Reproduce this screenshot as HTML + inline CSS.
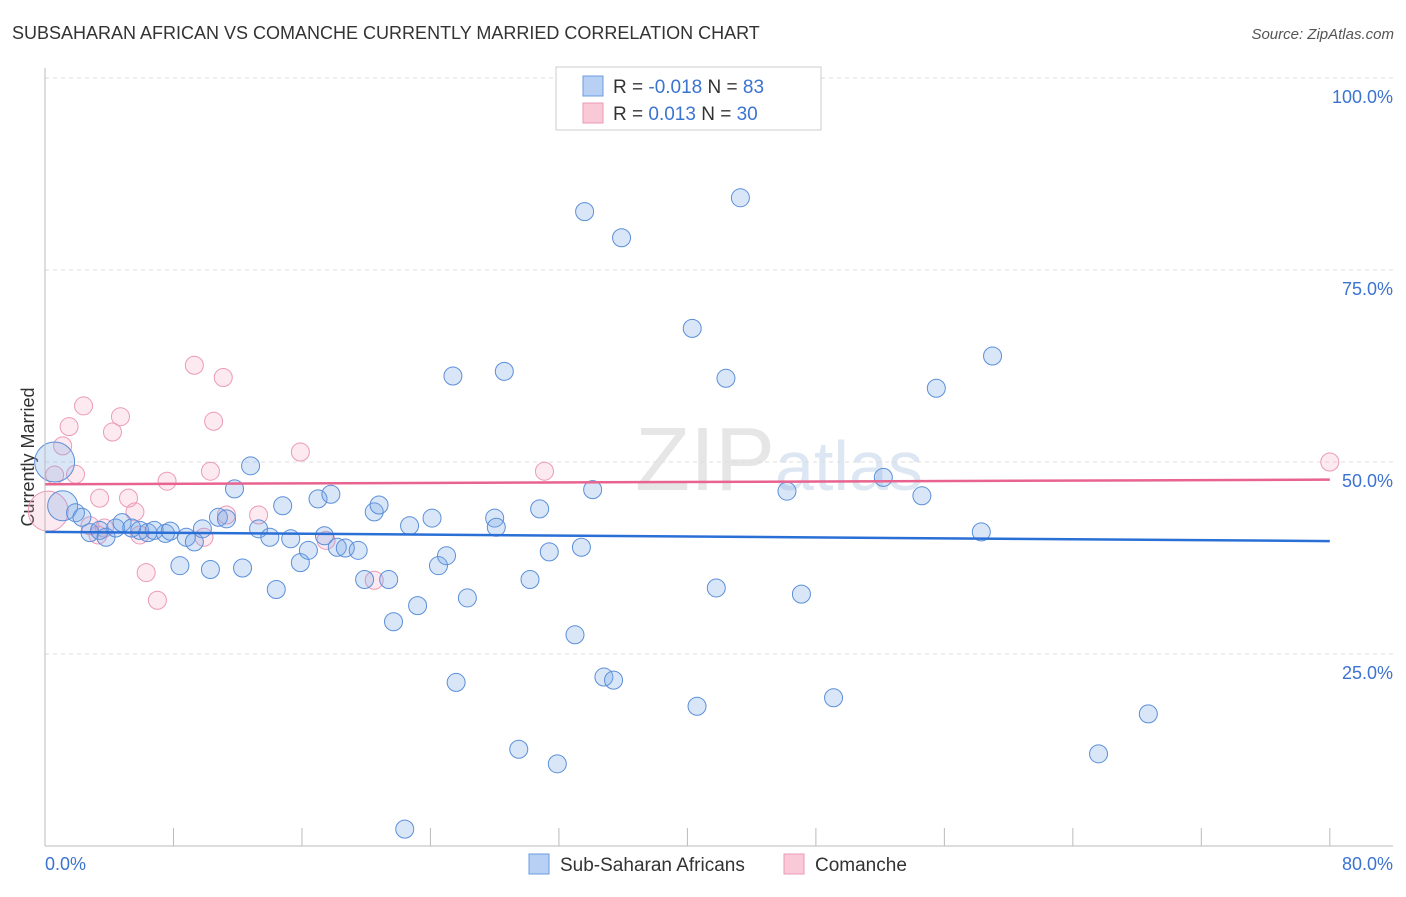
<!DOCTYPE html>
<html><head><meta charset="utf-8"><style>
body{margin:0;background:#fff;font-family:"Liberation Sans",sans-serif}
svg text{font-family:"Liberation Sans",sans-serif}
</style></head><body>
<svg width="1406" height="892" id="c">
<text x="12" y="39" font-size="18" fill="#333">SUBSAHARAN AFRICAN VS COMANCHE CURRENTLY MARRIED CORRELATION CHART</text>
<text x="1394" y="39" font-size="15" fill="#555" text-anchor="end" font-style="italic">Source: ZipAtlas.com</text>
<text x="635" y="490" font-size="90" fill="#e6e6e6" font-family="Liberation Serif">ZIP<tspan fill="#dde6f3" font-family="Liberation Sans" font-size="70">atlas</tspan></text>
<text transform="translate(34,457) rotate(-90)" font-size="18" fill="#333" text-anchor="middle">Currently Married</text>
<g id="grid"></g><g id="pts"></g><g id="lines"></g>
<line x1="45" y1="68" x2="45" y2="846" stroke="#bbb"/>
<line x1="45" y1="846" x2="1393" y2="846" stroke="#bbb"/>
<text x="45" y="870" font-size="18" fill="#3b73d1">0.0%</text>
<text x="1393" y="870" font-size="18" fill="#3b73d1" text-anchor="end">80.0%</text>
<g>
<rect x="556" y="67" width="265" height="63" fill="#fff" stroke="#ccc"/>
<rect x="583" y="76" width="20" height="20" fill="#b8d0f4" stroke="#6a9be0"/>
<rect x="583" y="103" width="20" height="20" fill="#f9c9d7" stroke="#ec9ab6"/>
<text x="613" y="93" font-size="19" fill="#333">R = <tspan fill="#3b73d1">-0.018</tspan>   N = <tspan fill="#3b73d1">83</tspan></text>
<text x="613" y="120" font-size="19" fill="#333">R = <tspan fill="#3b73d1"> 0.013</tspan>   N = <tspan fill="#3b73d1">30</tspan></text>
</g>
<g>
<rect x="529" y="854" width="20" height="20" fill="#b8d0f4" stroke="#6a9be0"/>
<text x="560" y="871" font-size="19" fill="#333">Sub-Saharan Africans</text>
<rect x="784" y="854" width="20" height="20" fill="#f9c9d7" stroke="#ec9ab6"/>
<text x="815" y="871" font-size="19" fill="#333">Comanche</text>
</g>
</svg>
<script>
const yTicks=[25,50,75,100];
const xTicks=[0,8,16,24,32,40,48,56,64,72,80];
const blueX=[0.6,1.1,1.9,2.3,2.8,3.4,3.8,4.4,4.8,5.4,5.9,6.4,6.8,7.5,7.8,8.8,9.3,9.8,10.3,10.8,11.3,11.8,12.3,12.8,13.3,14.0,14.4,14.8,15.3,15.9,16.4,17.0,17.4,17.8,18.2,18.7,19.5,19.9,20.5,20.8,21.4,21.7,22.7,23.2,24.1,24.5,25.0,25.4,25.6,26.3,28.0,28.1,28.6,29.5,30.2,30.8,31.4,31.9,33.0,33.6,34.1,33.4,34.8,35.4,35.9,40.3,40.6,41.8,42.4,43.3,46.2,47.1,49.1,52.2,54.6,55.5,58.3,59.0,65.6,68.7,22.4,8.4];
const blueY=[50.0,44.3,43.4,42.8,40.8,41.1,40.2,41.4,42.1,41.4,41.1,40.8,41.1,40.7,41.0,40.2,39.6,41.3,36.0,42.8,42.6,46.5,36.2,49.5,41.3,40.2,33.4,44.3,40.0,36.9,38.5,45.2,40.4,45.8,38.9,38.8,38.5,34.7,43.5,44.4,34.7,29.2,41.7,31.3,42.7,36.5,37.8,61.2,21.3,32.3,42.7,41.5,61.8,12.6,34.7,43.9,38.3,10.7,27.5,82.6,46.4,38.9,22.0,21.6,79.2,67.4,18.2,33.6,60.9,84.4,46.2,32.8,19.3,48.0,45.6,59.6,40.9,63.8,12.0,17.2,2.2,36.5];
const pinkX=[0.2,0.6,1.1,1.5,1.9,2.4,2.8,3.4,3.7,4.2,4.7,5.2,5.6,5.9,6.3,7.0,7.6,9.3,9.9,10.3,10.5,11.1,11.3,13.3,15.9,17.5,20.5,31.1,80.0,3.3];
const pinkY=[43.6,48.3,52.1,54.6,48.4,57.3,41.7,45.3,41.4,53.9,55.9,45.3,43.5,40.5,35.6,32.0,47.5,62.6,40.2,48.8,55.3,61.0,43.1,43.1,51.3,39.8,34.6,48.8,50.0,40.5];
const blueSize=[20,15];const pinkSize=[20];
const blueTrend=[40.9,39.7],pinkTrend=[47.1,47.7];
const X=v=>45+v*16.06, Y=v=>846-v*7.68;
const NS='http://www.w3.org/2000/svg';
const g=document.getElementById('grid'),p=document.getElementById('pts'),l=document.getElementById('lines');
yTicks.forEach(t=>{
 const ln=document.createElementNS(NS,'line');
 ln.setAttribute('x1',45);ln.setAttribute('x2',1393);ln.setAttribute('y1',Y(t));ln.setAttribute('y2',Y(t));
 ln.setAttribute('stroke','#ddd');ln.setAttribute('stroke-dasharray','4,4');
 
 
 g.appendChild(ln);
 const tx=document.createElementNS(NS,'text');
 tx.setAttribute('x',1393);tx.setAttribute('y',Y(t)+25);tx.setAttribute('text-anchor','end');
 tx.setAttribute('font-size','18');tx.setAttribute('fill','#3b73d1');tx.textContent=t.toFixed(1)+'%';
 
 
 g.appendChild(tx);
});
xTicks.forEach(t=>{
 const ln=document.createElementNS(NS,'line');
 ln.setAttribute('x1',X(t));ln.setAttribute('x2',X(t));ln.setAttribute('y1',828);ln.setAttribute('y2',846);
 ln.setAttribute('stroke','#bbb');
 
 
 g.appendChild(ln);
});
function dots(xs,ys,sz,fill,stroke,name){
 xs.forEach((v,i)=>{
  const c=document.createElementNS(NS,'circle');
  c.setAttribute('cx',X(v));c.setAttribute('cy',Y(ys[i]));c.setAttribute('r',sz[i]||9);
  c.setAttribute('fill',fill);c.setAttribute('stroke',stroke);c.setAttribute('stroke-width','1');
  
  
  p.appendChild(c);
 });
}
dots(pinkX,pinkY,pinkSize,'rgba(244,160,188,0.22)','#eb9ab5','comanche-point');
dots(blueX,blueY,blueSize,'rgba(120,165,230,0.28)','#5b8fd9','subsaharan-point');
function trend(t,col,name){
 const ln=document.createElementNS(NS,'line');
 ln.setAttribute('x1',X(0));ln.setAttribute('x2',X(80));ln.setAttribute('y1',Y(t[0]));ln.setAttribute('y2',Y(t[1]));
 ln.setAttribute('stroke',col);ln.setAttribute('stroke-width','2.5');
 
 
 l.appendChild(ln);
}
trend(blueTrend,'#2a6fd6','subsaharan-trendline');
trend(pinkTrend,'#e8648f','comanche-trendline');
</script>
</body></html>
